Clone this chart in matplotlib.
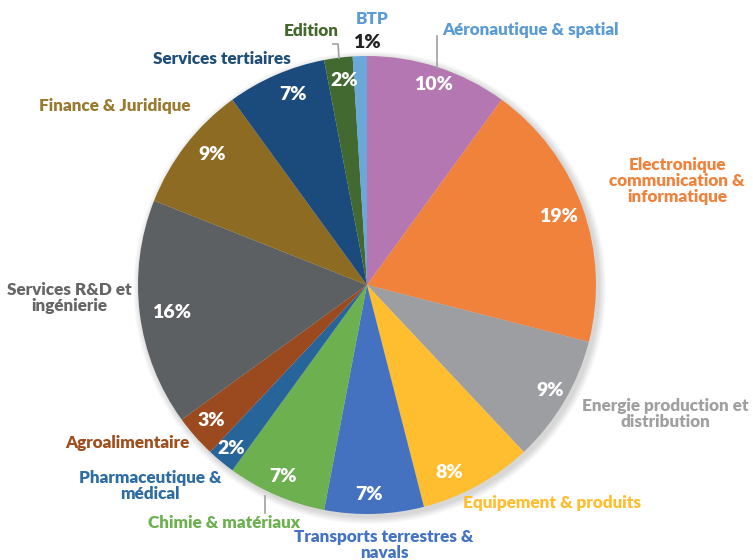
import matplotlib
matplotlib.use("Agg")
import matplotlib.pyplot as plt
from matplotlib.patches import Circle

categories = ["Aéronautique & spatial", "Electronique\ncommunication &\ninformatique",
              "Energie production et\ndistribution", "Equipement & produits",
              "Transports terrestres &\nnavals", "Chimie & matériaux",
              "Pharmaceutique &\nmédical", "Agroalimentaire",
              "Services R&D et\ningénierie", "Finance & Juridique",
              "Services tertiaires", "Edition", "BTP"]
values = [10, 19, 9, 8, 7, 7, 2, 3, 16, 9, 7, 2, 1]
pct_labels = ["10%", "19%", "9%", "8%", "7%", "7%", "2%", "3%", "16%", "9%", "7%", "2%", "1%"]
colors = ["#B477B1", "#F0823C", "#9D9EA1", "#FEBE2F", "#4472C0", "#6DB050",
          "#27649A", "#9B4A20", "#5D6062", "#8E6B22", "#1B4B7C", "#426A30", "#6AA8DA"]
text_colors = ["#5B9BD5", "#F0823C", "#A0A0A0", "#FEBE2F", "#4472C4", "#6DB050",
               "#2E6DA4", "#A04E1E", "#666666", "#997A2E", "#1F4E79", "#43682B", "#5B9BD5"]

# layout (pixel positions of text centres)
cx, cy, R = 367, 285, 229
W, H = 753, 560
label_px = [(530, 30), (677, 181), (665, 414), (552, 503), (384, 545), (224, 523),
            (150, 486), (127, 443), (69, 298), (115, 106), (222, 59), (311, 31), (372, 19)]
pct_px = [(433, 85), (558, 216), (550, 390), (449, 472), (369, 494), (283, 476),
          (231, 448), (211, 421), (172, 312), (212, 155), (293, 94), (344, 80), (367, 42)]

def d(p):
    return ((p[0] - cx) / R, (cy - p[1]) / R)

fig = plt.figure(figsize=(W / 100, H / 100), dpi=100)
ax = fig.add_axes([0, 0, 1, 1])

# soft shadow
for i in range(8):
    ax.add_patch(Circle((0.012, -0.012), 1.0 + 0.004 * (8 - i), color="black",
                        alpha=0.018, lw=0, zorder=0))

wedges, _ = ax.pie(values, colors=colors, startangle=90, counterclock=False,
                   radius=1.0, center=(0, 0), wedgeprops=dict(linewidth=0))
for w in wedges:
    w.set_zorder(2)

ax.set_xlim(-cx / R, (W - cx) / R)
ax.set_ylim((cy - H) / R, cy / R)
ax.set_aspect("equal", adjustable="datalim")
ax.axis("off")

font = ["Lato", "DejaVu Sans"]
for i, lab in enumerate(categories):
    x, y = d(label_px[i])
    ax.text(x, y, lab, ha="center", va="center", color=text_colors[i],
            fontsize=12.3, fontweight="heavy", family=font, linespacing=1.0, zorder=5)

for i, p in enumerate(pct_labels):
    x, y = d(pct_px[i])
    col = "#222222" if i == len(pct_labels) - 1 else "white"
    ax.text(x, y, p, ha="center", va="center", color=col, fontsize=14,
            fontweight="heavy", family=font, zorder=5)

# leader lines
def line(pts):
    xs, ys = zip(*[d(p) for p in pts])
    ax.plot(xs, ys, color="#A0A0A0", lw=1.2, zorder=4)

line([(437, 36), (437, 68)])
line([(333, 44), (338, 44), (339, 58)])
line([(265, 496), (265, 513)])

fig.savefig("out.png", dpi=100)
